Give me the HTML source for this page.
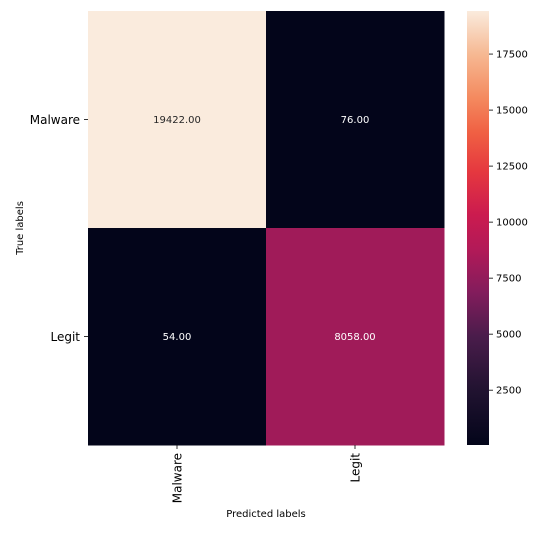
<!DOCTYPE html>
<html><head><meta charset="utf-8"><style>
body{margin:0;background:#fff;width:553px;height:529px;overflow:hidden;font-family:"DejaVu Sans","Liberation Sans",sans-serif}
</style></head><body>
<svg id="c" width="553" height="529" xmlns="http://www.w3.org/2000/svg">
<defs><linearGradient id="rocket" x1="0" y1="1" x2="0" y2="0">
<stop offset="0" stop-color="#03051a"/><stop offset="0.13" stop-color="#221331"/><stop offset="0.25" stop-color="#4a1c4b"/>
<stop offset="0.35" stop-color="#821c5c"/><stop offset="0.45" stop-color="#b21a58"/><stop offset="0.53" stop-color="#cb1b4f"/>
<stop offset="0.63" stop-color="#e5383f"/><stop offset="0.72" stop-color="#f06043"/><stop offset="0.8" stop-color="#f48a5f"/>
<stop offset="0.9" stop-color="#f6b892"/><stop offset="1" stop-color="#faebdd"/></linearGradient></defs>
<g id="cells"></g>
<rect x="467" y="11" width="22" height="434" fill="url(#rocket)"/>
<g id="cbticks"></g>
<text x="266" y="517" font-size="10" text-anchor="middle" fill="#000">Predicted labels</text>
<text transform="translate(23,228) rotate(-90)" font-size="10" text-anchor="middle" fill="#000">True labels</text>
</svg>
<script>
const rowLabels=["Malware","Legit"];
const colLabels=["Malware","Legit"];
const values=[[19422,76],[54,8058]];
const cbTicks=[2500,5000,7500,10000,12500,15000,17500];
const stops=[[0,[3,5,26]],[0.13,[34,19,49]],[0.25,[74,28,75]],[0.35,[130,28,92]],[0.45,[178,26,88]],[0.53,[203,27,79]],[0.63,[229,56,63]],[0.72,[240,96,67]],[0.8,[244,138,95]],[0.9,[246,184,146]],[1,[250,235,221]]];
const NS="http://www.w3.org/2000/svg";
const L=88,T=11,W=356,H=434;
const flat=values.flat();const vmin=Math.min(...flat),vmax=Math.max(...flat);
function color(v){const t=(v-vmin)/(vmax-vmin);for(let i=1;i<stops.length;i++){if(t<=stops[i][0]){const a=stops[i-1],b=stops[i];const f=(t-a[0])/(b[0]-a[0]);const c=a[1].map((x,k)=>Math.round(x+(b[1][k]-x)*f));return {c:`rgb(${c})`,t};}}return {c:"rgb(250,235,221)",t:1};}
function el(tag,attrs,txt){const e=document.createElementNS(NS,tag);for(const k in attrs)e.setAttribute(k,attrs[k]);if(txt!==undefined)e.textContent=txt;return e;}
const g=document.getElementById('cells');const svg=document.getElementById('c');
const cw=W/colLabels.length,ch=H/rowLabels.length;
values.forEach((row,i)=>row.forEach((v,j)=>{
 const col=color(v);
 const r=el('rect',{x:L+j*cw,y:T+i*ch,width:cw+0.5,height:ch+0.5,fill:col.c});
 
 g.appendChild(r);
 const t=el('text',{x:L+(j+0.5)*cw,y:T+(i+0.5)*ch+3.5,'font-size':10,'text-anchor':'middle',fill:col.t>0.6?'#262626':'#fff'},v.toFixed(2));
 
 g.appendChild(t);
}));
rowLabels.forEach((lab,i)=>{const y=T+(i+0.5)*ch;
 g.appendChild(el('line',{x1:L-4,x2:L,y1:y,y2:y,stroke:'#000','stroke-width':0.8}));
 const t=el('text',{x:L-8,y:y+4.5,'font-size':12,'text-anchor':'end',fill:'#000'},lab);
 
 g.appendChild(t);});
colLabels.forEach((lab,j)=>{const x=L+(j+0.5)*cw;
 g.appendChild(el('line',{x1:x,x2:x,y1:T+H,y2:T+H+4,stroke:'#000','stroke-width':0.8}));
 const t=el('text',{transform:`translate(${x+4.5},${T+H+8}) rotate(-90)`,'font-size':12,'text-anchor':'end',fill:'#000'},lab);
 
 g.appendChild(t);});
const cb=document.getElementById('cbticks');
cbTicks.forEach(v=>{const y=T+H-(v-vmin)/(vmax-vmin)*H;
 cb.appendChild(el('line',{x1:489,x2:493,y1:y,y2:y,stroke:'#000','stroke-width':0.8}));
 const t=el('text',{x:496,y:y+3.5,'font-size':10,fill:'#000'},String(v));
 
 cb.appendChild(t);});
</script>
</body></html>
